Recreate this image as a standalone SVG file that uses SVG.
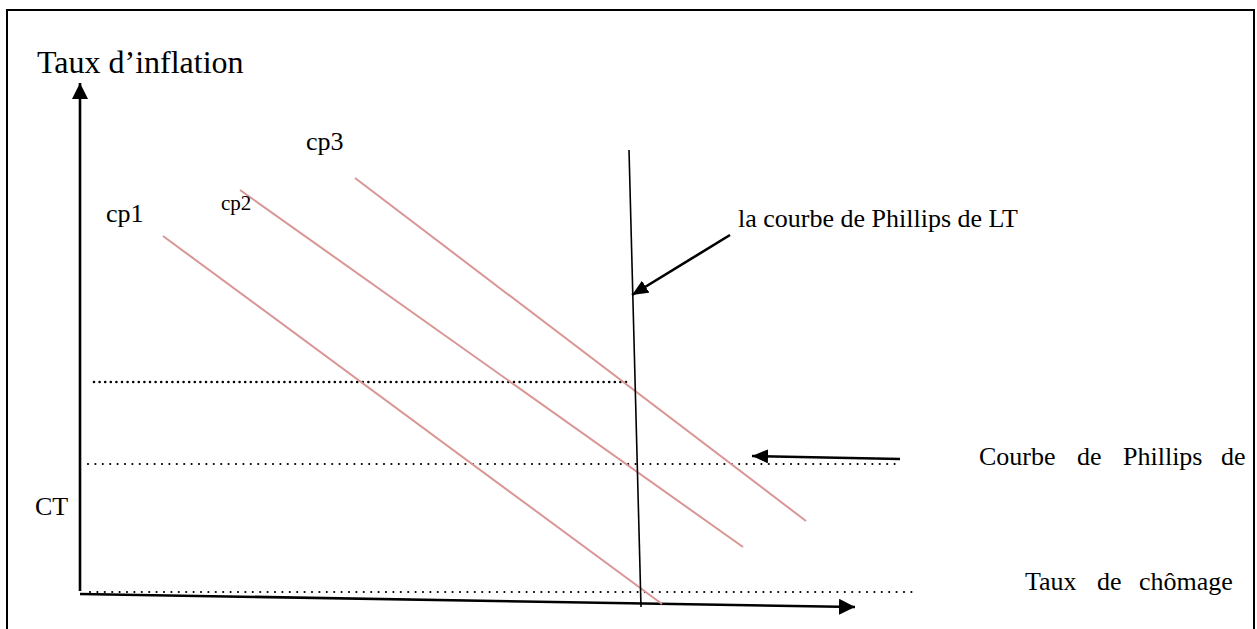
<svg xmlns="http://www.w3.org/2000/svg" width="1257" height="629" viewBox="0 0 1257 629">
<style>
text{font-family:"Liberation Serif","Times New Roman","DejaVu Serif",serif;fill:#000}
.lbl{font-size:26px}
.pink{stroke:#d99694;stroke-width:2;fill:none}
.dot{stroke:#000;stroke-linecap:round;fill:none}
.ax{stroke:#000;stroke-width:2.6;fill:none}
</style>
<defs>
<marker id="ah" markerUnits="userSpaceOnUse" markerWidth="18" markerHeight="16" refX="16" refY="8" orient="auto">
<path d="M0,0 L16,8 L0,16 Z" fill="#000"/>
</marker>
<marker id="ahs" markerUnits="userSpaceOnUse" markerWidth="18" markerHeight="14" refX="16" refY="7" orient="auto">
<path d="M0,0 L16,7 L0,14 Z" fill="#000"/>
</marker>
</defs>
<rect width="1257" height="629" fill="#fff"/>
<g id="frame" fill="none" stroke="#000" stroke-width="2">
<path d="M7,629 V10 H1254 V629"/>
</g>
<g id="connectors">
<line class="ax" x1="80" y1="591" x2="80" y2="83" marker-end="url(#ah)"/>
<line class="ax" x1="80" y1="594" x2="855" y2="607" marker-end="url(#ah)"/>
<line class="dot" stroke-width="2.6" stroke-dasharray="0 5.6" x1="94" y1="382" x2="626" y2="382"/>
<line class="dot" stroke-width="2.2" stroke-dasharray="0 7.4" x1="88" y1="464" x2="900" y2="464"/>
<line class="dot" stroke-width="2.2" stroke-dasharray="0 7.4" x1="90" y1="592" x2="912" y2="592"/>
<line class="pink" x1="163" y1="236" x2="662" y2="604"/>
<line class="pink" x1="240" y1="190" x2="743" y2="547"/>
<line class="pink" x1="355" y1="178" x2="806" y2="521"/>
<line stroke="#000" stroke-width="1.6" x1="629" y1="150" x2="641" y2="607"/>
<line stroke="#000" stroke-width="2.6" x1="730" y1="235" x2="632" y2="295" marker-end="url(#ahs)"/>
<line stroke="#000" stroke-width="2.6" x1="900" y1="459" x2="752" y2="456" marker-end="url(#ahs)"/>
</g>
<g id="labels" font-family="Liberation Serif, Times New Roman, serif">
<text x="37" y="73" font-size="32">Taux d’inflation</text>
<text class="lbl" x="306" y="150">cp3</text>
<text class="lbl" x="106" y="222">cp1</text>
<text x="221" y="210" font-size="21">cp2</text>
<text class="lbl" x="738" y="227">la courbe de Phillips de LT</text>
<text class="lbl" x="35" y="515" font-size="27">CT</text>
<text class="lbl" y="465"><tspan x="979">Courbe</tspan><tspan x="1077">de</tspan><tspan x="1123">Phillips</tspan><tspan x="1221">de</tspan></text>
<text class="lbl" y="590"><tspan x="1025">Taux</tspan><tspan x="1097">de</tspan><tspan x="1139">chômage</tspan></text>
</g>
</svg>
